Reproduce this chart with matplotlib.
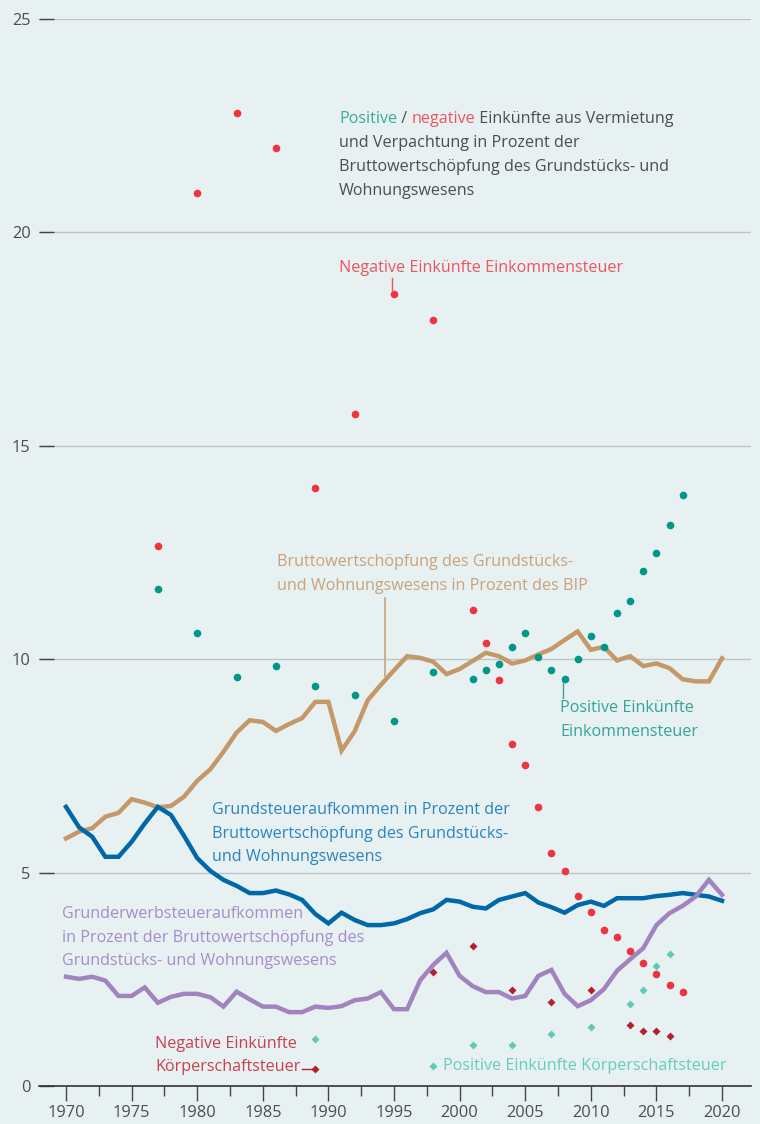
import matplotlib
matplotlib.use('Agg')
import matplotlib.pyplot as plt
from matplotlib.ticker import MultipleLocator

plt.rcParams['font.family'] = ['Open Sans', 'DejaVu Sans']

years = list(range(1970, 2021))

# Bruttowertschoepfung Grundstuecks- und Wohnungswesen in % des BIP
bws = [5.80, 5.96, 6.04, 6.31, 6.40, 6.72, 6.64, 6.53, 6.56, 6.78,
       7.15, 7.42, 7.83, 8.28, 8.57, 8.53, 8.32, 8.48, 8.62, 9.00,
       9.00, 7.86, 8.31, 9.04, 9.40, 9.74, 10.07, 10.03, 9.94, 9.65,
       9.77, 9.96, 10.15, 10.07, 9.90, 9.97, 10.11, 10.24, 10.45, 10.65,
       10.22, 10.29, 9.97, 10.07, 9.84, 9.90, 9.79, 9.53, 9.48, 9.48,
       10.02]

# Grundsteueraufkommen in % der BWS
grundsteuer = [6.54, 6.06, 5.84, 5.37, 5.37, 5.72, 6.15, 6.54, 6.35, 5.86,
               5.34, 5.04, 4.83, 4.69, 4.52, 4.52, 4.58, 4.49, 4.36, 4.03,
               3.81, 4.06, 3.89, 3.77, 3.77, 3.81, 3.91, 4.05, 4.14, 4.36,
               4.32, 4.20, 4.16, 4.36, 4.44, 4.52, 4.30, 4.19, 4.06, 4.24,
               4.32, 4.22, 4.40, 4.40, 4.40, 4.45, 4.48, 4.52, 4.48, 4.44,
               4.34]

# Grunderwerbsteueraufkommen in % der BWS
grunderwerb = [2.56, 2.51, 2.56, 2.47, 2.11, 2.11, 2.31, 1.95, 2.09, 2.16,
               2.16, 2.08, 1.86, 2.21, 2.03, 1.86, 1.86, 1.73, 1.73, 1.86,
               1.83, 1.87, 2.01, 2.05, 2.20, 1.80, 1.80, 2.48, 2.84, 3.12,
               2.58, 2.34, 2.20, 2.20, 2.05, 2.11, 2.58, 2.72, 2.16, 1.87,
               2.01, 2.27, 2.70, 2.97, 3.23, 3.77, 4.05, 4.22, 4.44, 4.83,
               4.48]

# Einkuenfte aus Vermietung und Verpachtung, Einkommensteuer
est_years = [1977, 1980, 1983, 1986, 1989, 1992, 1995, 1998,
             2001, 2002, 2003, 2004, 2005, 2006, 2007, 2008, 2009,
             2010, 2011, 2012, 2013, 2014, 2015, 2016, 2017]
est_pos = [11.65, 10.61, 9.58, 9.83, 9.37, 9.17, 8.55, 9.71,
           9.54, 9.75, 9.88, 10.29, 10.62, 10.04, 9.75, 9.54, 10.00,
           10.54, 10.29, 11.08, 11.36, 12.07, 12.49, 13.15, 13.85]
est_neg = [12.65, 20.93, 22.79, 21.97, 14.02, 15.75, 18.56, 17.95,
           11.15, 10.37, 9.51, 8.01, 7.52, 6.53, 5.46, 5.04, 4.45,
           4.08, 3.66, 3.49, 3.16, 2.88, 2.62, 2.37, 2.20]

# Einkuenfte aus Vermietung und Verpachtung, Koerperschaftsteuer
kst_years = [1989, 1998, 2001, 2004, 2007, 2010, 2013, 2014, 2015, 2016]
kst_pos = [1.09, 0.47, 0.97, 0.97, 1.22, 1.38, 1.92, 2.25, 2.80, 3.09]
kst_neg = [0.40, 2.67, 3.29, 2.25, 1.97, 2.25, 1.42, 1.30, 1.30, 1.17]

BG = '#e8f1f2'
TAN = '#c49868'
BLUE = '#0068a8'
PURPLE = '#a183bf'
RED = '#ee3441'
TEAL = '#00978a'
DRED = '#b3202f'
LTEAL = '#5fc9b9'
GRAY = '#4d4d4d'
FS = 11.6

fig = plt.figure(figsize=(7.6, 11.24), dpi=100, facecolor=BG)
ax = fig.add_axes([39 / 760, 38 / 1124, 712 / 760, 1067 / 1124])
ax.set_facecolor(BG)

ax.set_xlim(1970 - 27 / 13.12, 1970 + 685 / 13.12)
ax.set_ylim(0, 25)

for s in ['top', 'right', 'left']:
    ax.spines[s].set_visible(False)
ax.spines['bottom'].set_color('#333333')
ax.spines['bottom'].set_linewidth(1.2)

ax.xaxis.set_minor_locator(MultipleLocator(2.5))
ax.set_xticks(range(1970, 2021, 5))
ax.tick_params(axis='y', direction='in', length=11, width=1.0, color='#444444',
               pad=6, labelsize=11.8, labelcolor=GRAY)
ax.tick_params(axis='x', which='major', direction='out', length=11, width=1.0,
               color='#444444', pad=3, labelsize=11.8, labelcolor=GRAY)
ax.tick_params(axis='x', which='minor', direction='out', length=7, width=1.0,
               color='#444444')
ax.yaxis.grid(True, color='#bfc5c7', linewidth=1.0)
ax.set_axisbelow(True)
ax.set_yticks([0, 5, 10, 15, 20, 25])
ax.set_yticklabels(['0', '5', '10', '15', '20', '25'])

ax.plot(years, bws, color=TAN, lw=3.2, solid_joinstyle='miter', zorder=3)
ax.plot(years, grundsteuer, color=BLUE, lw=3.2, solid_joinstyle='miter', zorder=4)
ax.plot(years, grunderwerb, color=PURPLE, lw=3.2, solid_joinstyle='miter', zorder=5)

ax.plot(est_years, est_neg, 'o', color=RED, ms=5.5, mec='none', zorder=6)
ax.plot(est_years, est_pos, 'o', color=TEAL, ms=5.5, mec='none', zorder=6)
ax.plot(kst_years, kst_neg, 'D', color=DRED, ms=4, mec='none', zorder=6)
ax.plot(kst_years, kst_pos, 'D', color=LTEAL, ms=4, mec='none', zorder=6)


def px(x, y):
    # pixel position in reference -> data coords
    return 1970 + (x - 66) / 13.12, (1086 - y) / 42.68


def label(x, y, lines, color, step=23.5):
    for i, s in enumerate(lines):
        ax.annotate(s, px(x, y), xytext=(0, -i * step * 0.72), textcoords='offset points',
                    color=color, fontsize=FS, va='center', ha='left', zorder=7)


# top label with mixed colours
t1 = ax.annotate('Positive', px(339, 119), color='#3aab9c', fontsize=FS, va='center', ha='left')
t2 = ax.annotate(' / ', (1, 0.5), xycoords=t1, color=GRAY, fontsize=FS, va='center', ha='left')
t3 = ax.annotate('negative', (1, 0.5), xycoords=t2, color='#ec5560', fontsize=FS, va='center', ha='left')
ax.annotate(' Einkünfte aus Vermietung', (1, 0.5), xycoords=t3, color=GRAY, fontsize=FS,
            va='center', ha='left')
label(339, 143, ['und Verpachtung in Prozent der',
                 'Bruttowertschöpfung des Grundstücks- und',
                 'Wohnungswesens'], GRAY, step=24)

label(339, 268, ['Negative Einkünfte Einkommensteuer'], '#ec5560')
ax.plot(*zip(px(392, 278), px(392, 290)), color='#ec5560', lw=1.0)

label(277, 562, ['Bruttowertschöpfung des Grundstücks-',
                 'und Wohnungswesens in Prozent des BIP'], '#c9a27a')
ax.plot(*zip(px(384.7, 598), px(384.7, 676)), color='#c9a27a', lw=1.2)

label(560, 708, ['Positive Einkünfte', 'Einkommensteuer'], '#33a597', step=24)
ax.plot(*zip(px(563.3, 682), px(563.3, 698)), color='#33a597', lw=1.0)

label(212, 810, ['Grundsteueraufkommen in Prozent der',
                 'Bruttowertschöpfung des Grundstücks-',
                 'und Wohnungswesens'], '#2a84bf')

label(62, 914, ['Grunderwerbsteueraufkommen',
                'in Prozent der Bruttowertschöpfung des',
                'Grundstücks- und Wohnungswesens'], '#a58ccb')

label(155, 1043.5, ['Negative Einkünfte', 'Körperschaftsteuer'], '#c8404f')
ax.plot(*zip(px(302, 1069), px(313, 1069)), color=DRED, lw=1.0)

label(443, 1066.5, ['Positive Einkünfte Körperschaftsteuer'], '#66cdbd')

plt.savefig('out.png', dpi=100, facecolor=BG)
